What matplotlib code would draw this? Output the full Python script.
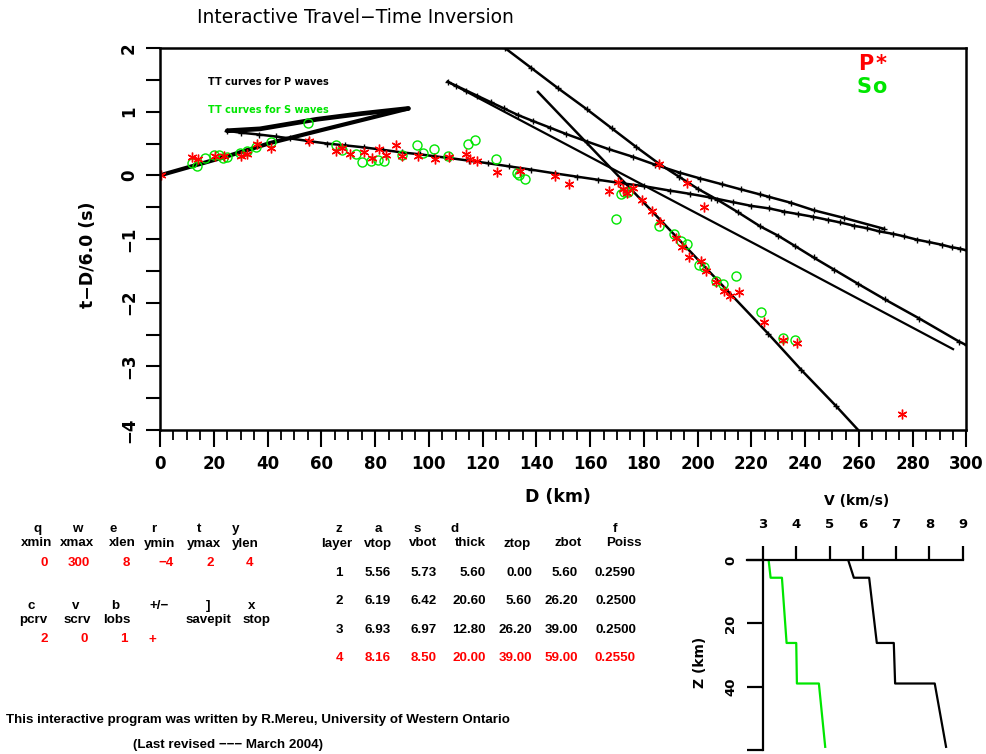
import numpy as np
import matplotlib
matplotlib.use('Agg')
import matplotlib.pyplot as plt
from matplotlib.ticker import MultipleLocator

W, H = 987, 754
RED = '#ff0000'
GRN = '#00e600'

##################################################################
# picks: distance (km), reduced time t-D/6 (s)
p_dist = [0.4, 12.0, 14.0, 20.5, 23.8, 30.1, 32.3, 36.0, 41.3, 55.6, 65.5, 67.6,
          70.7, 75.7, 78.8, 81.6, 84.0, 87.8, 90.2, 96.1, 102.3, 107.5, 113.8,
          115.4, 117.8, 125.5, 134.0, 147.0, 152.0, 167.2, 170.2, 172.2, 173.6,
          176.1, 179.2, 182.9, 185.7, 186.1, 192.0, 194.1, 196.0, 196.6, 201.2,
          202.4, 203.0, 206.8, 209.9, 212.1, 215.2, 224.5, 231.9, 236.9, 276.0]
p_tred = [0.0, 0.29, 0.26, 0.30, 0.30, 0.30, 0.33, 0.49, 0.43, 0.54, 0.38, 0.43,
          0.33, 0.36, 0.28, 0.42, 0.32, 0.47, 0.30, 0.31, 0.26, 0.29, 0.33,
          0.26, 0.22, 0.05, 0.07, -0.01, -0.14, -0.24, -0.11, -0.21, -0.28,
          -0.20, -0.39, -0.56, 0.18, -0.73, -0.99, -1.13, -0.12, -1.29, -1.34,
          -0.49, -1.50, -1.67, -1.81, -1.90, -1.84, -2.31, -2.59, -2.63, -3.75]
s_dist = [11.8, 13.9, 16.7, 20.1, 22.1, 23.6, 25.0, 29.8, 32.3, 35.7, 41.2, 55.2,
          65.5, 67.6, 72.9, 75.3, 78.4, 81.2, 83.5, 89.9, 95.5, 97.7, 102.0,
          107.0, 114.7, 117.0, 125.0, 132.7, 133.6, 135.8, 169.7, 171.5, 172.7,
          173.9, 185.5, 191.3, 193.8, 196.0, 200.4, 202.4, 206.9, 209.4, 214.4,
          223.7, 231.6, 236.3]
s_tred = [0.19, 0.15, 0.27, 0.32, 0.32, 0.27, 0.29, 0.35, 0.38, 0.45, 0.52, 0.82,
          0.48, 0.40, 0.33, 0.21, 0.22, 0.24, 0.22, 0.32, 0.48, 0.35, 0.42,
          0.30, 0.50, 0.55, 0.25, 0.04, 0.0, -0.06, -0.68, -0.29, -0.26,
          -0.26, -0.80, -0.92, -1.03, -1.08, -1.41, -1.44, -1.66, -1.70, -1.58,
          -2.15, -2.55, -2.59]

# computed P travel-time branches (black)
pg_d = [0, 25, 41.2, 60, 92.4]
pg_t = [0.0, 0.30, 0.51, 0.71, 1.05]
retro_d = [92.4, 75, 58.3, 37.2, 25]
retro_t = [1.05, 0.97, 0.88, 0.73, 0.70]
p2_d = [25, 30, 37, 43, 48.4, 55, 62, 69, 75.7, 83, 90, 96.7, 102, 108, 115, 122,
        130, 138, 147, 155, 163, 171, 180, 189.7, 197, 205, 213, 220, 226.7,
        232.1, 237.5, 242.8, 248.4, 253.0, 258.0, 262.9, 267.5, 272.8, 276.9,
        281.5, 286.2, 290.8, 294.5, 297.4, 300.1]
p2_t = [0.70, 0.67, 0.64, 0.61, 0.58, 0.54, 0.50, 0.47, 0.44, 0.40, 0.36, 0.33,
        0.30, 0.27, 0.23, 0.19, 0.14, 0.09, 0.03, -0.02, -0.07, -0.12, -0.17,
        -0.24, -0.29, -0.35, -0.42, -0.48, -0.52, -0.57, -0.61, -0.65, -0.70,
        -0.74, -0.79, -0.83, -0.88, -0.92, -0.96, -1.01, -1.05, -1.09, -1.13,
        -1.15, -1.18]
refl_d = [107.0, 110, 114, 118, 123, 128, 133, 138.9, 145, 151, 158.9, 167, 176.0,
          184, 193.5, 201, 209, 216, 223.2, 226.7, 234.6, 243.3, 254.5, 269.3]
refl_t = [1.47, 1.41, 1.33, 1.25, 1.15, 1.05, 0.95, 0.85, 0.75, 0.65, 0.53, 0.41,
          0.29, 0.17, 0.04, -0.05, -0.14, -0.22, -0.30, -0.34, -0.43, -0.55,
          -0.67, -0.84]
p3_d = [107.0, 127.6, 193.5, 223.2, 295.0]
p3_t = [1.47, 1.01, -0.46, -1.12, -2.73]
p3r_d = [128.3, 138, 148, 158.7, 168, 177, 185.7, 193, 200, 207.2, 215, 223.2,
         230.0, 236.2, 243.1, 250.7, 259.5, 269.7, 282.5, 297.2, 300.1]
p3r_t = [2.0, 1.69, 1.37, 1.04, 0.74, 0.45, 0.18, -0.02, -0.21, -0.38, -0.58,
         -0.80, -0.95, -1.11, -1.29, -1.48, -1.70, -1.95, -2.25, -2.61, -2.67]
pn_d = [140.6, 183.4, 226.3, 238.4, 251.4, 259.7]
pn_t = [1.31, -0.58, -2.49, -3.05, -3.62, -4.0]

# model table
layer = [1, 2, 3, 4]
vtop = [5.56, 6.19, 6.93, 8.16]
vbot = [5.73, 6.42, 6.97, 8.50]
thick = [5.60, 20.60, 12.80, 20.00]
ztop = [0.00, 5.60, 26.20, 39.00]
zbot = [5.60, 26.20, 39.00, 59.00]
poiss = [0.2590, 0.2500, 0.2500, 0.2550]
vs_prof = [3.17, 3.23, 3.57, 3.71, 4.00, 4.02, 4.68, 4.87]

par1_keys = ['q', 'w', 'e', 'r', 't', 'y']
par1_names = ['xmin', 'xmax', 'xlen', 'ymin', 'ymax', 'ylen']
par1_vals = ['0', '300', '8', '\u22124', '2', '4']
par2_keys = ['c', 'v', 'b', '+/\u2212', ']', 'x']
par2_names = ['pcrv', 'scrv', 'lobs', '', 'savepit', 'stop']
par2_vals = ['2', '0', '1', '+']
tab_keys = ['z', 'a', 's', 'd', '', '', 'f']
tab_heads = ['layer', 'vtop', 'vbot', 'thick', 'ztop', 'zbot', 'Poiss']
##################################################################


def fx(px):
    return px / W


def fy(py):
    return 1 - py / H


fig = plt.figure(figsize=(W / 100, H / 100), dpi=100)
ax = fig.add_axes([fx(160), fy(430), 806.5 / W, 382 / H])

ax.plot(pg_d, pg_t, color='k', lw=3.0, solid_capstyle='round')
ax.plot(retro_d, retro_t, color='k', lw=3.4, solid_capstyle='round')
ax.plot(p2_d, p2_t, color='k', lw=1.8, marker='+', ms=5, mew=1)
ax.plot(refl_d, refl_t, color='k', lw=1.8, marker='+', ms=5, mew=1)
ax.plot(p3_d, p3_t, color='k', lw=1.6)
ax.plot(p3r_d, p3r_t, color='k', lw=1.8, marker='+', ms=5, mew=1)
ax.plot(pn_d, pn_t, color='k', lw=1.8, marker='+', ms=5, mew=1, markevery=[2, 3, 4])

ax.plot(s_dist, s_tred, ls='none', marker='o', ms=6.5, mfc='none', mec=GRN, mew=1.0)
ax.plot(p_dist, p_tred, ls='none', marker=(6, 2, 0), ms=7, mec=RED, mew=1.0)

ax.set_xlim(0, 300)
ax.set_ylim(-4, 2)
ax.xaxis.set_major_locator(MultipleLocator(20))
ax.xaxis.set_minor_locator(MultipleLocator(5))
ax.yaxis.set_major_locator(MultipleLocator(1))
ax.yaxis.set_minor_locator(MultipleLocator(0.5))
ax.tick_params(axis='x', which='major', direction='out', length=12, width=1.5, pad=6)
ax.tick_params(axis='x', which='minor', direction='out', length=7, width=1.3)
ax.tick_params(axis='y', which='both', direction='out', length=10, width=1.5, pad=6)
for sp in ax.spines.values():
    sp.set_linewidth(1.8)
for lab in ax.get_xticklabels():
    lab.set_fontweight('bold')
    lab.set_fontsize(12)
for lab in ax.get_yticklabels():
    lab.set_fontweight('bold')
    lab.set_fontsize(12)
    lab.set_rotation(90)
    lab.set_va('center')

fig.text(fx(355), fy(17.5), 'Interactive Travel\u2212Time Inversion', ha='center',
         va='center', fontsize=13.5)
fig.text(fx(558), fy(497), 'D (km)', ha='center', va='center', fontsize=12.5,
         fontweight='bold')
fig.text(fx(88), fy(255), 't\u2212D/6.0 (s)', ha='center', va='center', fontsize=12.5,
         fontweight='bold', rotation=90)
fig.text(fx(208), fy(82), 'TT curves for P waves', ha='left', va='center', fontsize=7,
         fontweight='bold', color='k')
fig.text(fx(208), fy(110), 'TT curves for S waves', ha='left', va='center', fontsize=7,
         fontweight='bold', color=GRN)
fig.text(fx(866), fy(64), 'P', ha='center', va='center', fontsize=15, fontweight='heavy', color=RED)
fig.text(fx(881), fy(64), '*', ha='center', va='center', fontsize=15, fontweight='heavy', color=RED)
fig.text(fx(864), fy(87), 'S', ha='center', va='center', fontsize=15, fontweight='heavy', color=GRN)
fig.text(fx(879), fy(87), 'o', ha='center', va='center', fontsize=15, fontweight='heavy', color=GRN)

# parameter block
tf = dict(family='Liberation Sans', fontweight='bold', fontsize=9.6, ha='center', va='baseline')
k1x = [38, 77, 113, 154, 199, 236]
n1x = [37, 77, 122, 160, 204, 245]
v1x = [44, 79, 126, 166, 210, 250]
for i in range(6):
    fig.text(fx(k1x[i]), fy(532), par1_keys[i], **tf)
    fig.text(fx(n1x[i]), fy(546.5), par1_names[i], **tf)
    fig.text(fx(v1x[i]), fy(566.5), par1_vals[i], color=RED, **tf)
k2x = [31, 76, 115, 159, 208, 252]
n2x = [33, 77, 117, 159, 208, 257]
v2x = [44, 84, 124, 152]
for i in range(6):
    fig.text(fx(k2x[i]), fy(609), par2_keys[i], **tf)
    fig.text(fx(n2x[i]), fy(623), par2_names[i], **tf)
for i in range(4):
    fig.text(fx(v2x[i]), fy(642.5), par2_vals[i], color=RED, **tf)

kx = [339, 378, 417, 455, 0, 0, 615]
hx = [337, 378, 423, 470, 517, 568, 624]
for i in range(7):
    if tab_keys[i]:
        fig.text(fx(kx[i]), fy(532), tab_keys[i], **tf)
    fig.text(fx(hx[i]), fy(546.5), tab_heads[i], **tf)
rows_y = [575.5, 604, 633, 661]
tr = dict(tf)
tr['ha'] = 'right'
for i in range(4):
    c = RED if i == 3 else 'k'
    fig.text(fx(339), fy(rows_y[i]), str(layer[i]), color=c, **tf)
    fig.text(fx(391), fy(rows_y[i]), '%.2f' % vtop[i], color=c, **tr)
    fig.text(fx(437), fy(rows_y[i]), '%.2f' % vbot[i], color=c, **tr)
    fig.text(fx(486), fy(rows_y[i]), '%.2f' % thick[i], color=c, **tr)
    fig.text(fx(532), fy(rows_y[i]), '%.2f' % ztop[i], color=c, **tr)
    fig.text(fx(578), fy(rows_y[i]), '%.2f' % zbot[i], color=c, **tr)
    fig.text(fx(636), fy(rows_y[i]), '%.4f' % poiss[i], color=c, **tr)

fig.text(fx(258), fy(723), 'This interactive program was written by R.Mereu, '
         'University of Western Ontario', **tf)
fig.text(fx(228), fy(748), '(Last revised \u2212\u2212\u2212 March 2004)', **tf)

# velocity - depth profile
z_prof = []
vp_prof = []
for i in range(4):
    z_prof += [ztop[i], zbot[i]]
    vp_prof += [vtop[i], vbot[i]]
axv = fig.add_axes([fx(746.7), fy(750), (962.7 - 746.7) / W, 190 / H])
axv.plot(vp_prof, z_prof, color='k', lw=1.6)
axv.plot(vs_prof, z_prof, color=GRN, lw=1.6)
axv.set_xlim(3 - 16.3 / 33.4, 9)
axv.set_ylim(60, 0)
axv.spines['left'].set_position(('data', 3))
axv.spines['right'].set_visible(False)
axv.spines['bottom'].set_visible(False)
for sp in ['left', 'top']:
    axv.spines[sp].set_linewidth(1.6)
axv.patch.set_visible(False)
axv.xaxis.tick_top()
axv.set_xticks(range(3, 10))
axv.set_yticks([0, 20, 40, 60])
axv.set_yticklabels(['0', '20', '40', ''])
axv.tick_params(axis='x', direction='out', length=10, width=1.6, pad=11, labelsize=9.5)
axv.tick_params(axis='y', direction='out', length=11.5, width=1.6, pad=7, labelsize=9.5)
for lab in axv.get_xticklabels():
    lab.set_fontweight('bold')
for lab in axv.get_yticklabels():
    lab.set_fontweight('bold')
    lab.set_rotation(90)
    lab.set_va('center')
fig.text(fx(857), fy(501), 'V (km/s)', ha='center', va='center', fontsize=10, fontweight='bold')
fig.text(fx(700), fy(662), 'Z (km)', ha='center', va='center', fontsize=10,
         fontweight='bold', rotation=90)

plt.savefig('out.png', dpi=100)
